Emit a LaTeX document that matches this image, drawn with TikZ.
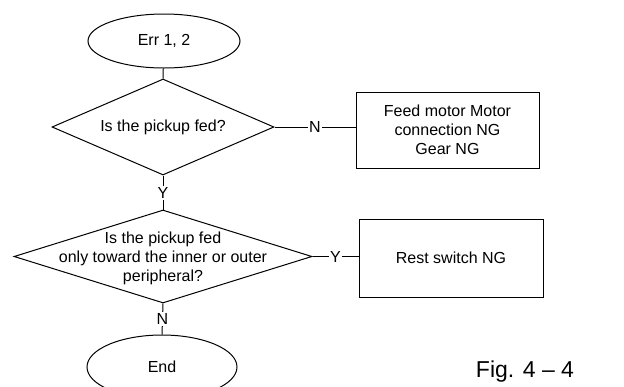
\documentclass[tikz,border=0pt]{standalone}
\usepackage{fontspec}
\setmainfont{Liberation Sans}
\usetikzlibrary{shapes.geometric}
\begin{document}
\begin{tikzpicture}[x=1pt,y=-1pt,
  every node/.style={font=\fontsize{16pt}{19pt}\selectfont},
  conn/.style={line width=1pt},
  term/.style={draw, line width=1pt, ellipse, inner sep=0pt},
  dec/.style={draw, line width=1pt, diamond, inner sep=0pt},
  box/.style={draw, line width=1pt, rectangle, align=center, inner sep=0pt},
  txt/.style={align=center, inner sep=0pt},
  lbl/.style={fill=white, inner sep=1.5pt},
]
\useasboundingbox (0,0) rectangle (624,386);
% start
\node[term, minimum width=152pt, minimum height=54pt] (start) at (164,41) {Err 1, 2};
% decision 1
\node[dec, minimum width=222pt, minimum height=96pt] (d1) at (163,127) {};
\node[txt] (t1) at (163,127) {Is the pickup fed?};
% box 1
\node[box, minimum width=183pt, minimum height=76pt] (b1) at (447.5,130)
  {Feed motor Motor\\connection NG\\Gear NG};
% decision 2
\node[dec, minimum width=298pt, minimum height=93pt] (d2) at (163,256.5) {};
\node[txt] (t2) at (163,258) {Is the pickup fed\\only toward the inner or outer\\peripheral?};
% box 2
\node[box, minimum width=184pt, minimum height=78pt] (b2) at (451,258) {Rest switch NG};
% end
\node[term, minimum width=150pt, minimum height=64pt] (end) at (162,367) {End};
% figure caption
\node[font=\fontsize{23pt}{27pt}\selectfont, inner sep=0pt] (fig) at (525,372) {Fig. 4 – 4};
% connectors
\draw[conn] (start) -- (d1.north);
\draw[conn] (d1.east) -- node[lbl] (ln1) {N} (d1.east -| b1.west);
\draw[conn] (d1.south) -- node[lbl] (ly1) {Y} (d2.north);
\draw[conn] (d2.east) -- node[lbl] (ly2) {Y} (d2.east -| b2.west);
\draw[conn] (d2.south) -- node[lbl] (ln2) {N} (end.north);
\end{tikzpicture}
\end{document}
